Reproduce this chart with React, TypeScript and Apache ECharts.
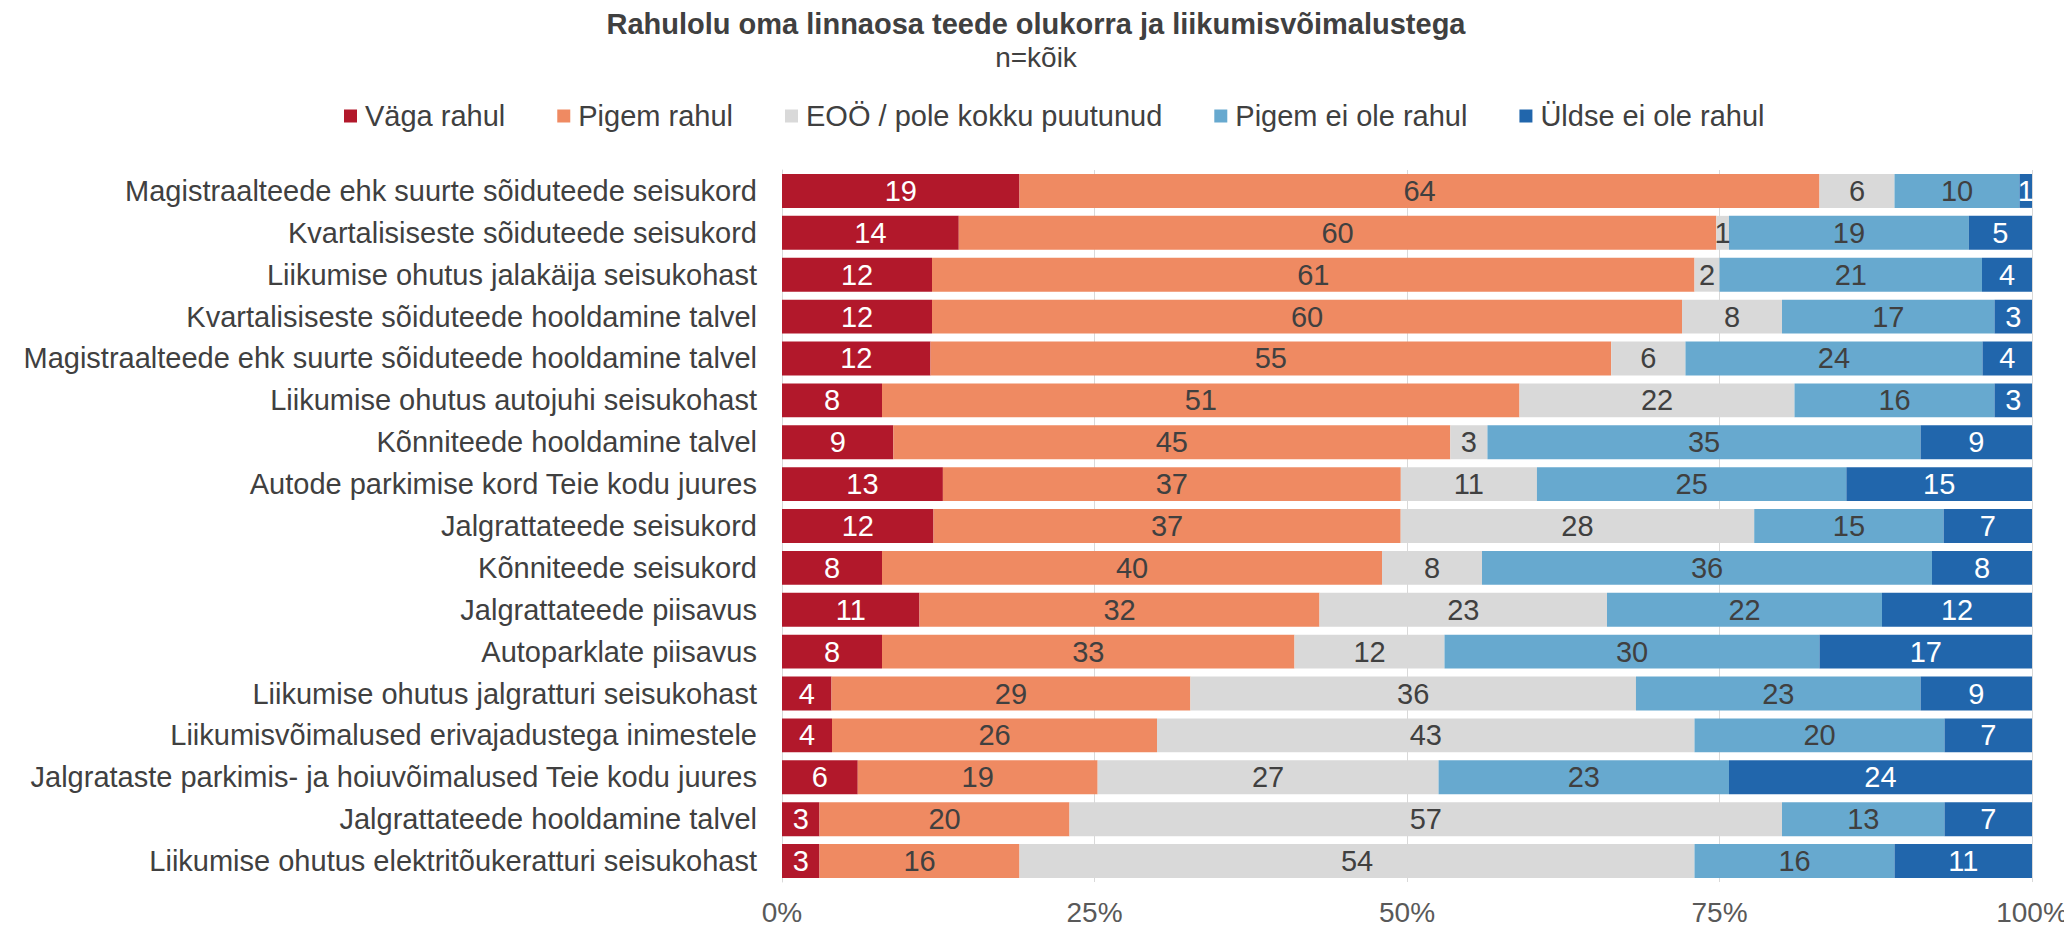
import React, { useEffect, useRef } from "react";
import * as echarts from "echarts";

const categories = [
  "Magistraalteede ehk suurte sõiduteede seisukord",
  "Kvartalisiseste sõiduteede seisukord",
  "Liikumise ohutus jalakäija seisukohast",
  "Kvartalisiseste sõiduteede hooldamine talvel",
  "Magistraalteede ehk suurte sõiduteede hooldamine talvel",
  "Liikumise ohutus autojuhi seisukohast",
  "Kõnniteede hooldamine talvel",
  "Autode parkimise kord Teie kodu juures",
  "Jalgrattateede seisukord",
  "Kõnniteede seisukord",
  "Jalgrattateede piisavus",
  "Autoparklate piisavus",
  "Liikumise ohutus jalgratturi seisukohast",
  "Liikumisvõimalused erivajadustega inimestele",
  "Jalgrataste parkimis- ja hoiuvõimalused Teie kodu juures",
  "Jalgrattateede hooldamine talvel",
  "Liikumise ohutus elektritõukeratturi seisukohast",
];

const seriesNames = [
  "Väga rahul",
  "Pigem rahul",
  "EOÖ / pole kokku puutunud",
  "Pigem ei ole rahul",
  "Üldse ei ole rahul",
];

const vagaRahul = [19, 14, 12, 12, 12, 8, 9, 13, 12, 8, 11, 8, 4, 4, 6, 3, 3];
const pigemRahul = [64, 60, 61, 60, 55, 51, 45, 37, 37, 40, 32, 33, 29, 26, 19, 20, 16];
const eoo = [6, 1, 2, 8, 6, 22, 3, 11, 28, 8, 23, 12, 36, 43, 27, 57, 54];
const pigemEiOle = [10, 19, 21, 17, 24, 16, 35, 25, 15, 36, 22, 30, 23, 20, 23, 13, 16];
const uldseEiOle = [1, 5, 4, 3, 4, 3, 9, 15, 7, 8, 12, 17, 9, 7, 24, 7, 11];

const xTickLabels = ["0%", "25%", "50%", "75%", "100%"];

const colors = ["#B2182B", "#EF8A62", "#D9D9D9", "#67A9CF", "#2166AC"];
const labelColors = ["#FFFFFF", "#404040", "#404040", "#404040", "#FFFFFF"];

const FONT = "'Liberation Sans', Arial, sans-serif";

export default function App() {
  const ref = useRef<HTMLDivElement>(null);

  useEffect(() => {
    if (!ref.current) return;
    const chart = echarts.init(ref.current, null, { renderer: "svg" });
    const raw = [vagaRahul, pigemRahul, eoo, pigemEiOle, uldseEiOle];
    const totals = categories.map((_, i) => raw.reduce((s, arr) => s + arr[i], 0));

    const series = raw.map((arr, si) => ({
      name: seriesNames[si],
      type: "bar",
      stack: "total",
      barCategoryGap: "19%",
      itemStyle: { color: colors[si] },
      label: {
        show: true,
        position: "inside",
        color: labelColors[si],
        fontSize: 29,
        fontFamily: FONT,
        formatter: (p: any) => String(arr[p.dataIndex]),
      },
      data: arr.map((v, i) => (v / totals[i]) * 100),
    }));

    chart.setOption({
      animation: false,
      backgroundColor: "#FFFFFF",
      textStyle: { fontFamily: FONT },
      title: {
        text: "Rahulolu oma linnaosa teede olukorra ja liikumisvõimalustega",
        subtext: "n=kõik",
        left: "center",
        top: 4,
        itemGap: 3,
        textStyle: {
          fontSize: 29,
          fontWeight: "bold",
          color: "#404040",
          fontFamily: FONT,
          lineHeight: 30,
        },
        subtextStyle: {
          fontSize: 28,
          color: "#404040",
          fontFamily: FONT,
          lineHeight: 30,
        },
      },
      legend: {
        data: seriesNames,
        left: 339,
        top: 96,
        icon: "rect",
        itemWidth: 13,
        itemHeight: 13,
        itemGap: 52,
        textStyle: {
          fontSize: 29,
          color: "#404040",
          fontFamily: FONT,
          lineHeight: 30,
          padding: [0, 0, 0, 3],
        },
      },
      grid: {
        left: 782,
        right: 40,
        top: 170,
        bottom: 48,
        containLabel: false,
      },
      xAxis: {
        type: "value",
        min: 0,
        max: 100,
        interval: 25,
        axisLine: { show: false },
        axisTick: { show: false },
        splitLine: { show: true, lineStyle: { color: "#D9D9D9", width: 1 } },
        axisLabel: {
          fontSize: 28,
          color: "#595959",
          fontFamily: FONT,
          margin: 16,
          formatter: (v: number) => xTickLabels[Math.round(v / 25)],
        },
      },
      yAxis: {
        type: "category",
        inverse: true,
        data: categories,
        axisLine: { show: true, lineStyle: { color: "#D9D9D9", width: 1 } },
        axisTick: { show: false },
        axisLabel: {
          fontSize: 29,
          color: "#404040",
          fontFamily: FONT,
          margin: 25,
        },
      },
      series,
    });

    return () => {
      chart.dispose();
    };
  }, []);

  return <div ref={ref} style={{ width: 2072, height: 930, margin: -8 }} />;
}
